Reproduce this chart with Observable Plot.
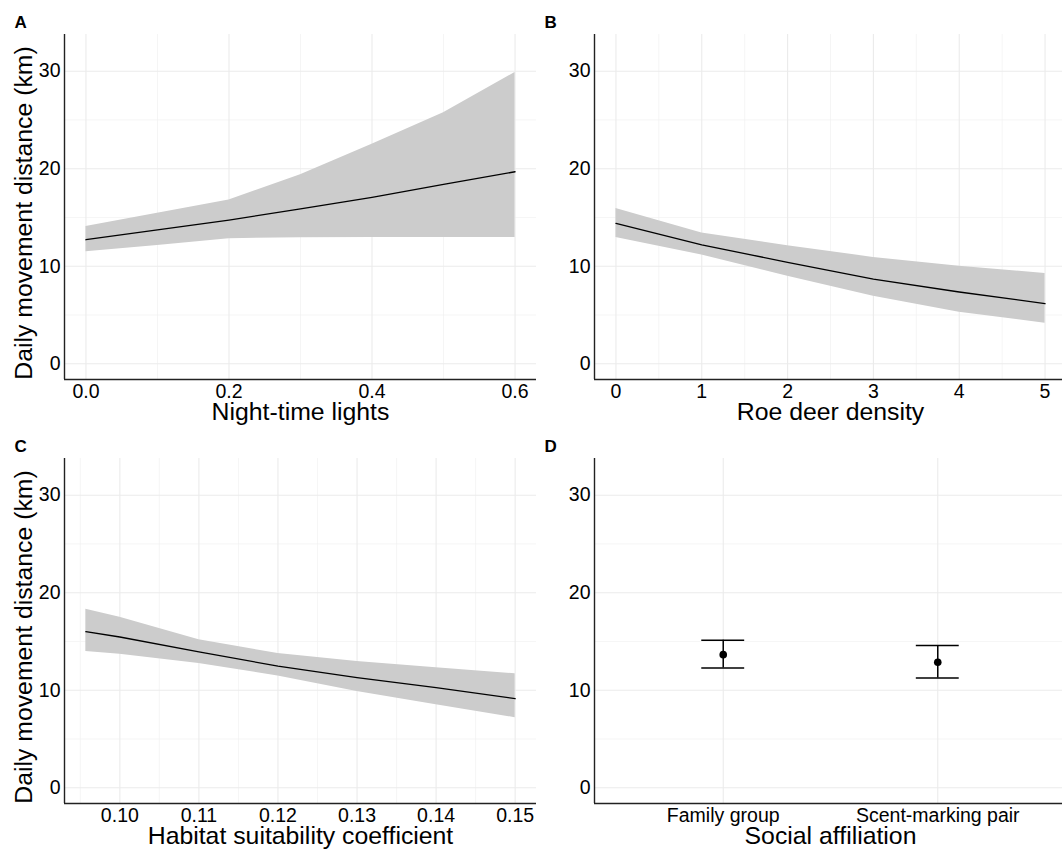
<!DOCTYPE html>
<html><head><meta charset="utf-8">
<script src="https://cdn.jsdelivr.net/npm/d3@7"></script>
<script src="https://cdn.jsdelivr.net/npm/@observablehq/plot@0.6"></script>
<style>
html,body{margin:0;padding:0;background:#fff;overflow:hidden;}
#chart{position:relative;width:1062px;height:854px;overflow:hidden;background:#fff;}
#chart svg{position:absolute;}
</style></head><body><div id="chart"></div>
<script>
const yTitle = "Daily movement distance (km)";
const yTicks = [0, 10, 20, 30];
const yMinor = [5, 15, 25];
const yDomain = [-1.61, 33.76];

// Panel A: night-time lights
const lightsX   = [0, 0.1, 0.2, 0.3, 0.4, 0.5, 0.6];
const lightsFit = [12.72, 13.74, 14.73, 15.88, 17.07, 18.40, 19.69];
const lightsLo  = [11.50, 12.14, 12.82, 12.93, 12.95, 12.96, 12.96];
const lightsHi  = [14.08, 15.44, 16.80, 19.39, 22.50, 25.75, 29.86];
const lightsTicks = [0, 0.2, 0.4, 0.6];
const lightsMinor = [0.1, 0.3, 0.5];

// Panel B: roe deer density
const deerX   = [0, 1, 2, 3, 4, 5];
const deerFit = [14.39, 12.20, 10.40, 8.69, 7.36, 6.17];
const deerLo  = [12.96, 11.15, 8.97, 6.92, 5.28, 4.16];
const deerHi  = [15.92, 13.40, 12.10, 10.91, 9.99, 9.27];
const deerTicks = [0, 1, 2, 3, 4, 5];
const deerMinor = [0.5, 1.5, 2.5, 3.5, 4.5];

// Panel C: habitat suitability
const habX   = [0.0957, 0.10, 0.11, 0.12, 0.13, 0.14, 0.15];
const habFit = [16.00, 15.46, 13.93, 12.47, 11.29, 10.27, 9.15];
const habLo  = [13.97, 13.69, 12.75, 11.46, 9.86, 8.51, 7.19];
const habHi  = [18.31, 17.49, 15.19, 13.76, 12.95, 12.31, 11.69];
const habTicks = [0.10, 0.11, 0.12, 0.13, 0.14, 0.15];
const habMinor = [0.095, 0.105, 0.115, 0.125, 0.135, 0.145];

// Panel D: social affiliation
const socialGroups = ["Family group", "Scent-marking pair"];
const socialMean = [13.65, 12.87];
const socialLo   = [12.28, 11.26];
const socialHi   = [15.12, 14.60];

const FONT = "'Liberation Sans', Arial, Helvetica, sans-serif";
const gridMajor = {stroke: "#ebebeb", strokeOpacity: 1, strokeWidth: 1.1};
const gridMinor = {stroke: "#f1f1f1", strokeOpacity: 1, strokeWidth: 0.7};
const axisLine = {stroke: "#222", strokeWidth: 1.4};

function ribbonMarks(xs, fit, lo, hi) {
  const data = xs.map((x, i) => ({x, fit: fit[i], lo: lo[i], hi: hi[i]}));
  return [
    Plot.areaY(data, {x: "x", y1: "lo", y2: "hi", fill: "#cccccc", fillOpacity: 1}),
    Plot.line(data, {x: "x", y: "fit", stroke: "black", strokeWidth: 1.3})
  ];
}

function panel({left, top, height, letter, xDomain, xTicks, xMinor, xFormat, xTitle, showY, marks}) {
  const svg = Plot.plot({
    width: 536, height,
    marginLeft: 64, marginRight: 0, marginTop: 34, marginBottom: height - 34 - 345,
    x: {domain: xDomain},
    y: {domain: yDomain},
    style: {fontFamily: FONT, background: "transparent", overflow: "visible", color: "black"},
    marks: [
      Plot.gridX(xMinor, gridMinor),
      Plot.gridY(yMinor, gridMinor),
      Plot.gridX(xTicks, gridMajor),
      Plot.gridY(yTicks, gridMajor),
      ...marks,
      Plot.ruleX([xDomain[0]], axisLine),
      Plot.ruleY([yDomain[0]], axisLine),
      Plot.axisX(xTicks, {tickSize: 0, tickPadding: 5, fontSize: 19.5, tickFormat: xFormat, label: null}),
      Plot.axisY(yTicks, {tickSize: 0, tickPadding: 4, fontSize: 19.5, label: null}),
      Plot.text([xTitle], {frameAnchor: "bottom", dy: 22.6, lineAnchor: "top", textAnchor: "middle", fontSize: 24.8}),
      showY ? Plot.text([yTitle], {frameAnchor: "left", rotate: -90, dx: -40, dy: 6, textAnchor: "middle", lineAnchor: "middle", fontSize: 24.8}) : null,
      Plot.text([letter], {frameAnchor: "top-left", dx: -50, dy: -18.4, lineAnchor: "top", textAnchor: "start", fontSize: 17, fontWeight: "bold"})
    ]
  });
  svg.style.left = left + "px";
  svg.style.top = top + "px";
  document.getElementById("chart").appendChild(svg);
}

panel({
  left: 0, top: 0, height: 424, letter: "A",
  xDomain: [-0.03, 0.63], xTicks: lightsTicks, xMinor: lightsMinor,
  xFormat: d3.format(".1f"), xTitle: "Night-time lights", showY: true,
  marks: ribbonMarks(lightsX, lightsFit, lightsLo, lightsHi)
});
panel({
  left: 530, top: 0, height: 424, letter: "B",
  xDomain: [-0.25, 5.25], xTicks: deerTicks, xMinor: deerMinor,
  xFormat: d3.format("d"), xTitle: "Roe deer density", showY: false,
  marks: ribbonMarks(deerX, deerFit, deerLo, deerHi)
});
panel({
  left: 0, top: 424, height: 430, letter: "C",
  xDomain: [0.0930, 0.1527], xTicks: habTicks, xMinor: habMinor,
  xFormat: d3.format(".2f"), xTitle: "Habitat suitability coefficient", showY: true,
  marks: ribbonMarks(habX, habFit, habLo, habHi)
});

const socialData = socialGroups.map((g, i) => ({pos: i + 1, group: g, mean: socialMean[i], lo: socialLo[i], hi: socialHi[i]}));
const capHalf = 0.1;
panel({
  left: 530, top: 424, height: 430, letter: "D",
  xDomain: [0.4, 2.6], xTicks: socialGroups.map((g, i) => i + 1), xMinor: [],
  xFormat: d => socialGroups[d - 1], xTitle: "Social affiliation", showY: false,
  marks: [
    Plot.ruleX(socialData, {x: "pos", y1: "lo", y2: "hi", stroke: "black", strokeWidth: 1.5}),
    Plot.ruleY(socialData, {y: "hi", x1: d => d.pos - capHalf, x2: d => d.pos + capHalf, stroke: "black", strokeWidth: 1.5}),
    Plot.ruleY(socialData, {y: "lo", x1: d => d.pos - capHalf, x2: d => d.pos + capHalf, stroke: "black", strokeWidth: 1.5}),
    Plot.dot(socialData, {x: "pos", y: "mean", r: 3.8, fill: "black", stroke: "none"})
  ]
});
</script>
</body></html>
